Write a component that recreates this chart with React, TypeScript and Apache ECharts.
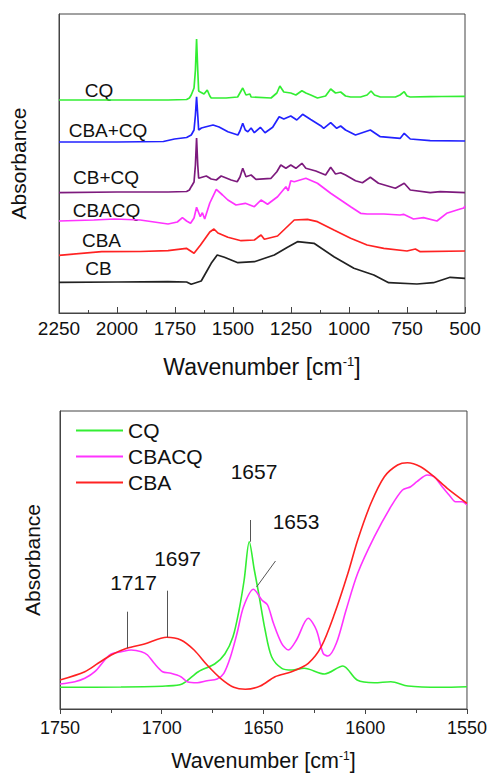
import React, { useEffect, useRef } from "react";
import * as echarts from "echarts";

// ---------- Top panel: full spectra (wavenumber, absorbance a.u.) ----------
const topXTicks = [2250, 2000, 1750, 1500, 1250, 1000, 750, 500];

const cqTop: [number, number][] = [
  [2250, 213], [1780, 213], [1700, 213.5], [1688, 215], [1680, 218], [1668, 225], [1662, 243],
  [1657, 274], [1652, 243], [1648, 222], [1641, 221], [1625, 219], [1611, 223], [1600, 217],
  [1594, 215], [1530, 215], [1480, 216], [1458, 225], [1444, 218], [1427, 219], [1422, 216],
  [1336, 215], [1311, 220], [1298, 227], [1281, 221], [1251, 220], [1229, 218], [1203, 222.3],
  [1186, 220], [1165, 218], [1136, 215], [1101, 217], [1079, 224], [1058, 220], [1036, 221],
  [1015, 217], [993, 216], [950, 216], [922, 218], [905, 222], [890, 218], [865, 216],
  [800, 216], [780, 218], [762, 221.3], [750, 217], [736, 216], [650, 216.3], [600, 216.5],
  [500, 216.7],
];

const cbaCqTop: [number, number][] = [
  [2250, 171], [2000, 171], [1800, 171.5], [1752, 174], [1700, 175.5], [1680, 178], [1668, 183],
  [1662, 198], [1657, 216.3], [1652, 198], [1648, 183], [1636, 185], [1620, 186], [1586, 188],
  [1560, 186], [1522, 181.3], [1479, 178], [1470, 182], [1458, 189.7], [1447, 183], [1436, 181.3],
  [1422, 185], [1408, 180.3], [1382, 185.7], [1362, 180.3], [1329, 185.7], [1301, 196.3],
  [1281, 194], [1251, 197], [1225, 193], [1200, 198.7], [1165, 193.5], [1122, 187.3],
  [1109, 184.7], [1079, 190.3], [1053, 184.7], [1036, 187], [1015, 183], [972, 178],
  [908, 183], [865, 176.3], [779, 174.7], [762, 179.7], [736, 174], [650, 172.3], [500, 172],
];

const cbCqTop: [number, number][] = [
  [2250, 120.3], [2000, 121], [1780, 121], [1700, 121.5], [1688, 123], [1680, 126.3], [1668, 131],
  [1662, 148], [1657, 175], [1652, 148], [1648, 134.7], [1630, 136], [1615, 137], [1594, 134],
  [1572, 133], [1551, 137], [1508, 133], [1482, 131.3], [1470, 136], [1458, 144.7], [1444, 136.3],
  [1422, 138], [1401, 133.7], [1336, 134.7], [1311, 141.3], [1294, 148], [1272, 144.7],
  [1251, 148], [1229, 144.7], [1203, 149.7], [1186, 144.7], [1143, 142], [1101, 138],
  [1079, 145.7], [1058, 139], [1036, 140.3], [1015, 138], [972, 132.3], [942, 130.3],
  [908, 135.7], [873, 129.7], [800, 124.7], [762, 129.7], [736, 123], [650, 120.3],
  [607, 121.3], [500, 120.3],
];

const cbacqTop: [number, number][] = [
  [2250, 92], [2100, 93], [2010, 94], [1900, 93], [1780, 89], [1740, 91], [1718, 95.3],
  [1700, 92], [1683, 89.7], [1668, 95], [1657, 105.7], [1641, 96.3], [1632, 100.3], [1622, 94],
  [1600, 110], [1572, 123.7], [1545, 118], [1522, 113], [1487, 108], [1447, 109.7],
  [1408, 106.3], [1379, 113], [1351, 108.7], [1308, 116.3], [1272, 126.3], [1262, 122.3],
  [1251, 132.3], [1236, 131.3], [1186, 134.7], [1136, 129.7], [1079, 119.7], [993, 106.3],
  [950, 99.7], [922, 99], [850, 99], [780, 98], [765, 98.7], [722, 94], [679, 95.3],
  [621, 92], [579, 99.7], [521, 104], [505, 105], [500, 107],
];

const cbaTop: [number, number][] = [
  [2250, 57.7], [2066, 61.3], [1900, 61.5], [1780, 62.3], [1701, 64.7], [1668, 59.7], [1640, 68],
  [1600, 81], [1582, 84], [1565, 80], [1522, 75.7], [1465, 72.3], [1408, 73], [1393, 75.7],
  [1379, 78], [1365, 73.7], [1308, 77], [1236, 93], [1179, 93.7], [1136, 91.3], [1065, 83],
  [993, 74.7], [922, 68], [850, 64.7], [750, 62], [714, 64], [693, 61.3], [500, 62],
];

const cbTop: [number, number][] = [
  [2250, 30.7], [2000, 31], [1780, 31.3], [1700, 31], [1680, 28.7], [1637, 32], [1615, 41],
  [1594, 49.7], [1568, 58], [1537, 55.7], [1479, 50.3], [1408, 51.3], [1322, 58], [1265, 65.7],
  [1222, 71.3], [1151, 69.7], [1065, 56.3], [979, 44.7], [893, 38], [829, 30.3], [707, 29],
  [636, 30.3], [564, 35.7], [500, 34.7],
];

const topLabels = ["CQ", "CBA+CQ", "CB+CQ", "CBACQ", "CBA", "CB"];

// ---------- Bottom panel: carbonyl region ----------
const bottomXTicks = [1750, 1700, 1650, 1600, 1550];

const cqBottom: [number, number][] = [
  [1750, 21.7], [1720, 22], [1698, 23], [1690, 25], [1682, 37.3], [1674, 45], [1669, 55],
  [1665, 72.3], [1662, 99], [1659.5, 129], [1657, 167.3], [1654.5, 139], [1652.4, 116],
  [1649.2, 79], [1646, 52.3], [1641, 40.7], [1636, 39], [1630, 40.7], [1620, 35], [1611, 43],
  [1604, 29], [1595.5, 26.3], [1587.4, 27.3], [1579, 23], [1563, 21.7], [1550, 22.3],
];

const cbacqBottom: [number, number][] = [
  [1750, 25], [1742.7, 27.3], [1737.8, 30.7], [1732.9, 37.3], [1728, 49], [1724.8, 55],
  [1719.9, 57.3], [1715, 59], [1710, 57.3], [1707, 54], [1703.7, 45.7], [1699.6, 37.3],
  [1695.5, 35.7], [1690.6, 32.3], [1687.4, 27.3], [1682.5, 26.3], [1677.7, 28.3], [1672.8, 30],
  [1669.5, 35.7], [1666.2, 52.3], [1663, 75.7], [1659.8, 102.3], [1654.9, 119.7], [1650.8, 109],
  [1648, 104], [1645.1, 85.7], [1641.1, 65.7], [1637.8, 59], [1633.8, 69], [1628, 90.7],
  [1624, 79], [1620.7, 55.7], [1618.3, 53], [1614.2, 65.7], [1609.4, 99], [1603.7, 135.7],
  [1595.5, 172.3], [1587.4, 202.3], [1581.7, 219], [1577.7, 222.3], [1574.6, 227.3],
  [1569.5, 234], [1566.2, 232.3], [1562.2, 222.3], [1558.1, 212.3], [1555.7, 207.3],
  [1552.4, 207.3], [1550, 204],
];

const cbaBottom: [number, number][] = [
  [1750, 29], [1737.8, 37.3], [1731.3, 45.7], [1724.8, 54], [1717.2, 60.7], [1708.5, 65],
  [1697.5, 71.7], [1690.6, 69], [1684.1, 59], [1677.7, 44], [1671.1, 30.7], [1664.6, 21.7],
  [1658.9, 19.7], [1651.6, 23], [1644.3, 32.3], [1636.2, 37.3], [1628, 45.7], [1621.6, 62.3],
  [1615, 95.7], [1608.5, 135.7], [1603.7, 169], [1597.2, 205.7], [1590.6, 232.3],
  [1584.1, 244], [1579.3, 246.3], [1572.8, 242.3], [1566.2, 232.3], [1559.7, 220.7],
  [1550, 205.7],
];

// peak annotations and their leader lines: [x start, y start, x end, y end]
const peakLabels = ["1717", "1697", "1657", "1653"];
const peakLeaders: [number, number, number, number][] = [
  [1717, 60.7, 1717, 97.3],
  [1697.5, 71.7, 1697.5, 118.3],
  [1656.5, 167.3, 1656.5, 189],
  [1653.4, 122, 1644.1, 148],
];

const FONT = "Liberation Sans, Arial, Helvetica, sans-serif";
const GREEN = "#33ee33";
const BLUE = "#2222ff";
const PURPLE = "#7d1a7d";
const MAGENTA = "#ff33ff";
const RED = "#ff2222";
const BLACK = "#222222";
const AXIS = "#444444";

export default function App() {
  const ref = useRef<HTMLDivElement>(null);

  useEffect(() => {
    if (!ref.current) return;
    const chart = echarts.init(ref.current, null, { renderer: "svg" });

    const wnName = "{a|Wavenumber [cm}{s|-1}{a|]}";
    const richFor = (size: number, sup: number) => ({
      a: { fontSize: size, fontFamily: FONT, color: "#111" },
      s: { fontSize: sup, fontFamily: FONT, color: "#111", verticalAlign: "top" as const },
    });

    const topSeries = [
      { name: "CQ-top", data: cqTop, color: GREEN },
      { name: "CBA+CQ-top", data: cbaCqTop, color: BLUE },
      { name: "CB+CQ-top", data: cbCqTop, color: PURPLE },
      { name: "CBACQ-top", data: cbacqTop, color: MAGENTA },
      { name: "CBA-top", data: cbaTop, color: RED },
      { name: "CB-top", data: cbTop, color: BLACK },
    ].map((s) => ({
      type: "line" as const,
      name: s.name,
      xAxisIndex: 0,
      yAxisIndex: 0,
      data: s.data,
      symbol: "none",
      lineStyle: { color: s.color, width: 1.7 },
      itemStyle: { color: s.color },
      silent: true,
    }));

    const leaderData = peakLeaders.map((p) => [
      { coord: [p[0], p[1]] },
      { coord: [p[2], p[3]] },
    ]);

    const bottomSeries = [
      { name: "CQ", data: cqBottom, color: GREEN },
      { name: "CBACQ", data: cbacqBottom, color: MAGENTA },
      { name: "CBA", data: cbaBottom, color: RED },
    ].map((s, i) => ({
      type: "line" as const,
      name: s.name,
      xAxisIndex: 1,
      yAxisIndex: 1,
      data: s.data,
      symbol: "none",
      smooth: 0.3,
      lineStyle: { color: s.color, width: 1.6 },
      itemStyle: { color: s.color },
      silent: true,
      z: 3,
      ...(i === 2
        ? {
            markLine: {
              silent: true,
              symbol: ["none", "none"],
              label: { show: false },
              lineStyle: { color: "#555", width: 1, type: "solid" as const },
              data: leaderData,
            },
          }
        : {}),
    }));

    const topLabelPos: [number, number][] = [
      [99, 90], [108, 130.5], [106, 177.5], [106.5, 210], [101.5, 240], [98.5, 268.5],
    ];
    const peakLabelPos: [number, number][] = [
      [133.5, 582], [177.5, 558], [254, 471.5], [296, 521.5],
    ];

    chart.setOption({
      animation: false,
      textStyle: { fontFamily: FONT },
      grid: [
        { left: 57, top: 14, width: 408, height: 299, show: true, borderColor: AXIS, borderWidth: 1 },
        { left: 60, top: 411, width: 410, height: 298, show: true, borderColor: AXIS, borderWidth: 1 },
      ],
      legend: {
        data: ["CQ", "CBACQ", "CBA"],
        orient: "vertical",
        left: 71,
        top: 415,
        itemWidth: 47,
        itemHeight: 14,
        itemGap: 5,
        icon: "path://M0,6 L47,6 L47,8 L0,8 Z",
        textStyle: { fontSize: 21, fontFamily: FONT, color: "#111" },
        selectedMode: false,
      },
      xAxis: [
        {
          type: "value",
          gridIndex: 0,
          min: 500,
          max: 2250,
          interval: 250,
          inverse: true,
          axisLine: { show: true, lineStyle: { color: AXIS } },
          axisTick: { show: true, inside: true, length: 6, lineStyle: { color: AXIS } },
          minorTick: { show: true, splitNumber: 2, length: 3, lineStyle: { color: AXIS } },
          splitLine: { show: false },
          axisLabel: {
            fontSize: 19,
            color: "#111",
            margin: 6,
            formatter: (v: number) => (topXTicks.includes(v) ? String(v) : ""),
          },
          name: wnName,
          nameLocation: "middle",
          nameGap: 42,
          nameTextStyle: { rich: richFor(23, 13) },
        },
        {
          type: "value",
          gridIndex: 1,
          min: 1550,
          max: 1750,
          interval: 50,
          inverse: true,
          axisLine: { show: true, lineStyle: { color: AXIS } },
          axisTick: { show: true, inside: false, length: 5, lineStyle: { color: AXIS } },
          minorTick: { show: true, splitNumber: 2, length: 4, lineStyle: { color: AXIS } },
          splitLine: { show: false },
          axisLabel: {
            fontSize: 18,
            color: "#111",
            margin: 10,
            formatter: (v: number) => (bottomXTicks.includes(v) ? String(v) : ""),
          },
          name: wnName,
          nameLocation: "middle",
          nameGap: 41,
          nameTextStyle: { rich: richFor(21.5, 12) },
        },
      ],
      yAxis: [
        {
          type: "value",
          gridIndex: 0,
          min: 0,
          max: 299,
          axisLine: { show: true, lineStyle: { color: AXIS } },
          axisTick: { show: false },
          axisLabel: { show: false },
          splitLine: { show: false },
          name: "Absorbance",
          nameLocation: "middle",
          nameRotate: 90,
          nameGap: 30,
          nameTextStyle: { fontSize: 21, fontFamily: FONT, color: "#111" },
        },
        {
          type: "value",
          gridIndex: 1,
          min: 0,
          max: 298,
          axisLine: { show: true, lineStyle: { color: AXIS } },
          axisTick: { show: false },
          axisLabel: { show: false },
          splitLine: { show: false },
          name: "Absorbance",
          nameLocation: "middle",
          nameRotate: 90,
          nameGap: 17,
          nameTextStyle: { fontSize: 21, fontFamily: FONT, color: "#111" },
        },
      ],
      graphic: [
        ...topLabels.map((t, i) => ({
          type: "text" as const,
          x: topLabelPos[i][0],
          y: topLabelPos[i][1],
          style: {
            text: t,
            fontSize: 19,
            fontFamily: FONT,
            fill: "#111",
            align: "center" as const,
            verticalAlign: "middle" as const,
          },
          silent: true,
        })),
        ...peakLabels.map((t, i) => ({
          type: "text" as const,
          x: peakLabelPos[i][0],
          y: peakLabelPos[i][1],
          style: {
            text: t,
            fontSize: 21,
            fontFamily: FONT,
            fill: "#111",
            align: "center" as const,
            verticalAlign: "middle" as const,
          },
          silent: true,
        })),
      ],
      series: [...topSeries, ...bottomSeries],
    });

    return () => chart.dispose();
  }, []);

  return (
    <div
      ref={ref}
      style={{ position: "absolute", left: 0, top: 0, width: 490, height: 776, background: "#fff" }}
    />
  );
}
